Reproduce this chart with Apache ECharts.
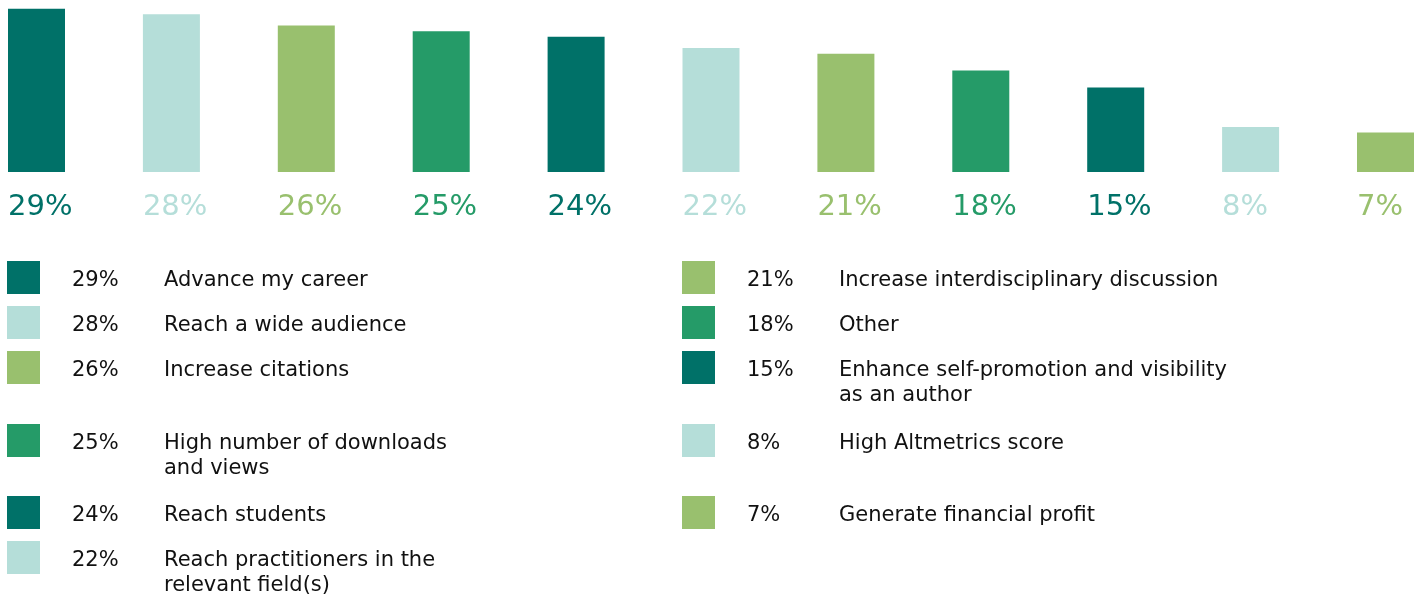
<!DOCTYPE html>
<html>
<head>
<meta charset="utf-8">
<script src="https://cdn.jsdelivr.net/npm/echarts@6/dist/echarts.min.js"></script>
<style>
  html, body { margin: 0; padding: 0; background: #fff; }
  #main { width: 1424px; height: 597px; }
</style>
</head>
<body>
<div id="main"></div>
<script>
// reasons, in bar order
var labels = [
  'Advance my career',
  'Reach a wide audience',
  'Increase citations',
  'High number of downloads\nand views',
  'Reach students',
  'Reach practitioners in the\nrelevant field(s)',
  'Increase interdisciplinary discussion',
  'Other',
  'Enhance self-promotion and visibility\nas an author',
  'High Altmetrics score',
  'Generate financial profit'
];
var values = [29, 28, 26, 25, 24, 22, 21, 18, 15, 8, 7];
var palette = ['#007168', '#b5ded9', '#99c06e', '#259b68'];

var fontFamily = '"DejaVu Sans", sans-serif';

var chartDom = document.getElementById('main');
var myChart = echarts.init(chartDom);

var barData = values.map(function (v, i) {
  var c = palette[i % palette.length];
  return { value: v, itemStyle: { color: c }, label: { color: c } };
});

// legend table: left column 6 rows, right column 5 rows
var rowTops = [261, 306, 351, 424, 496, 541];
var graphics = [];
labels.forEach(function (name, i) {
  var col = i < 6 ? 0 : 1;
  var row = col === 0 ? i : i - 6;
  var x0 = col === 0 ? 7 : 682;
  var top = rowTops[row];
  graphics.push({
    type: 'rect',
    shape: { x: x0, y: top, width: 33, height: 33 },
    style: { fill: palette[i % palette.length] }
  });
  graphics.push({
    type: 'text',
    x: x0 + 65, y: top + 7,
    style: { text: values[i] + '%', font: '21px ' + fontFamily, fill: '#111', textVerticalAlign: 'top', lineHeight: 25 }
  });
  graphics.push({
    type: 'text',
    x: x0 + 157, y: top + 7,
    style: { text: name, font: '21px ' + fontFamily, fill: '#111', textVerticalAlign: 'top', lineHeight: 25 }
  });
});

var option = {
  animation: false,
  grid: { left: 36.5, right: 38.5, top: 3, height: 169 },
  xAxis: {
    type: 'category',
    data: labels,
    boundaryGap: false,
    show: false
  },
  yAxis: {
    type: 'value',
    min: 0,
    max: 30,
    show: false,
    splitLine: { show: false }
  },
  series: [
    {
      type: 'bar',
      barWidth: 57,
      clip: false,
      data: barData,
      label: {
        show: true,
        position: 'bottom',
        distance: 21,
        align: 'left',
        offset: [-28.5, 0],
        formatter: '{c}%',
        fontFamily: fontFamily,
        fontSize: 29
      }
    }
  ],
  graphic: graphics
};

option && myChart.setOption(option);
</script>
</body>
</html>
